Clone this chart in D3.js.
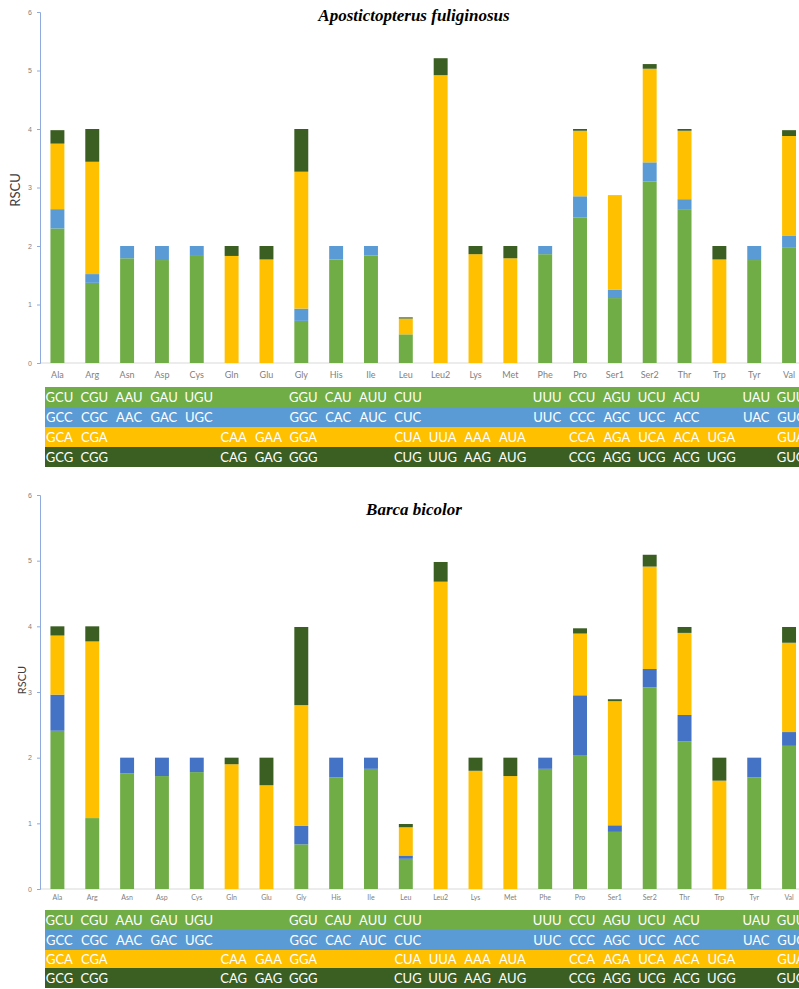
<!DOCTYPE html>
<html>
<head>
<meta charset="utf-8">
<script src="https://cdn.jsdelivr.net/npm/d3@7"></script>
<style>
  body { margin: 0; background: #fff; }
  svg { display: block; }
</style>
</head>
<body>
<script>
// amino acids along the x axis
var aminoAcids = ['Ala','Arg','Asn','Asp','Cys','Gln','Glu','Gly','His','Ile','Leu','Leu2','Lys','Met','Phe','Pro','Ser1','Ser2','Thr','Trp','Tyr','Val'];

// codon table rows (third position U, C, A, G)
var codonsU = ['GCU','CGU','AAU','GAU','UGU','','','GGU','CAU','AUU','CUU','','','','UUU','CCU','AGU','UCU','ACU','','UAU','GUU'];
var codonsC = ['GCC','CGC','AAC','GAC','UGC','','','GGC','CAC','AUC','CUC','','','','UUC','CCC','AGC','UCC','ACC','','UAC','GUC'];
var codonsA = ['GCA','CGA','','','','CAA','GAA','GGA','','','CUA','UUA','AAA','AUA','','CCA','AGA','UCA','ACA','UGA','','GUA'];
var codonsG = ['GCG','CGG','','','','CAG','GAG','GGG','','','CUG','UUG','AAG','AUG','','CCG','AGG','UCG','ACG','UGG','','GUG'];

// RSCU values, Apostictopterus fuliginosus
var apoU = [2.30,1.37,1.79,1.76,1.83,0,0,0.72,1.77,1.84,0.49,0,0,0,1.86,2.49,1.11,3.10,2.63,0,1.76,1.98];
var apoC = [0.33,0.15,0.21,0.24,0.17,0,0,0.21,0.23,0.16,0,0,0,0,0.14,0.36,0.14,0.33,0.17,0,0.24,0.20];
var apoA = [1.12,1.92,0,0,0,1.83,1.77,2.34,0,0,0.27,4.92,1.86,1.79,0,1.12,1.62,1.60,1.17,1.77,0,1.70];
var apoG = [0.23,0.56,0,0,0,0.17,0.23,0.73,0,0,0.02,0.29,0.14,0.21,0,0.03,0,0.08,0.03,0.23,0,0.10];

// RSCU values, Barca bicolor
var barU = [2.41,1.08,1.76,1.72,1.78,0,0,0.68,1.70,1.83,0.46,0,0,0,1.83,2.04,0.87,3.07,2.25,0,1.70,2.18];
var barC = [0.55,0,0.24,0.28,0.22,0,0,0.28,0.30,0.17,0.05,0,0,0,0.17,0.91,0.10,0.28,0.40,0,0.30,0.21];
var barA = [0.90,2.69,0,0,0,1.90,1.58,1.84,0,0,0.43,4.68,1.80,1.72,0,0.94,1.89,1.56,1.25,1.65,0,1.36];
var barG = [0.14,0.23,0,0,0,0.10,0.42,1.19,0,0,0.05,0.30,0.20,0.28,0,0.08,0.03,0.18,0.09,0.35,0,0.24];

var yTicks = [0,1,2,3,4,5,6];

const W = 799, H = 989;
const svg = d3.select('body').append('svg')
  .attr('width', W)
  .attr('height', H)
  .style('font-family', 'Lato, "Open Sans", sans-serif');

const x = d3.scaleBand()
  .domain(aminoAcids)
  .range([40, 40 + 22 * 34.84])
  .paddingInner(0.6)
  .paddingOuter(0.3);

const green = '#70ad47', lightBlue = '#5b9bd5', yellow = '#ffc000', dark = '#3b5e23';

function drawPanel(p) {
  const g = svg.append('g');
  const y = d3.scaleLinear().domain([0, 6]).range([p.y0, p.y6]);

  // title
  g.append('text')
    .attr('x', 414).attr('y', p.titleY)
    .attr('text-anchor', 'middle')
    .style('font-family', '"Liberation Serif", "DejaVu Serif", serif')
    .style('font-style', 'italic').style('font-weight', 'bold')
    .style('font-size', '17px')
    .text(p.title);

  // baseline
  g.append('line')
    .attr('x1', 40).attr('x2', W).attr('y1', p.y0).attr('y2', p.y0)
    .attr('stroke', '#d9d9d9').attr('stroke-width', 1);

  // stacked bars
  const keys = ['U','C','A','G'];
  const colors = {U: green, C: p.blue, A: yellow, G: dark};
  const rows = aminoAcids.map((aa, i) => ({aa: aa, U: p.u[i], C: p.c[i], A: p.a[i], G: p.g[i]}));
  const stack = d3.stack().keys(keys)(rows);
  g.selectAll('g.layer')
    .data(stack)
    .enter().append('g')
    .attr('fill', d => colors[d.key])
    .selectAll('rect')
    .data(d => d)
    .enter().append('rect')
    .attr('x', d => x(d.data.aa))
    .attr('width', x.bandwidth())
    .attr('y', d => y(d[1]))
    .attr('height', d => y(d[0]) - y(d[1]));

  // y axis
  const yAxis = d3.axisLeft(y).tickValues(yTicks).tickFormat(d3.format('d')).tickSize(3).tickPadding(5);
  const ya = g.append('g')
    .attr('transform', 'translate(40,0)')
    .call(yAxis);
  ya.select('.domain').attr('stroke', '#8faadc');
  ya.selectAll('.tick line').attr('stroke', '#8faadc');
  ya.selectAll('.tick text').attr('fill', '#7f7f7f').style('font-size', '7px');

  // y label
  g.append('text')
    .attr('transform', 'translate(' + p.labelX + ',' + p.labelY + ') rotate(-90)')
    .attr('text-anchor', 'middle')
    .attr('fill', '#404040')
    .style('font-size', p.labelSize + 'px')
    .text('RSCU');

  // x labels
  g.selectAll('text.xl')
    .data(aminoAcids)
    .enter().append('text')
    .attr('class', 'xl')
    .attr('x', d => x(d) + x.bandwidth() / 2)
    .attr('y', p.xLabelY)
    .attr('text-anchor', 'middle')
    .attr('fill', '#7f7f7f')
    .style('font-size', p.xLabelSize + 'px')
    .text(d => d);

  // codon table
  const tableRows = [
    {fill: green, codons: codonsU},
    {fill: lightBlue, codons: codonsC},
    {fill: yellow, codons: codonsA},
    {fill: dark, codons: codonsG}
  ];
  tableRows.forEach(function(r, ri) {
    const top = p.tableY[ri], bot = p.tableY[ri + 1];
    g.append('rect')
      .attr('x', 45).attr('y', top)
      .attr('width', W - 45).attr('height', bot - top)
      .attr('fill', r.fill);
    g.selectAll('text.c' + ri)
      .data(r.codons)
      .enter().append('text')
      .attr('x', (d, i) => x(aminoAcids[i]) + x.bandwidth() / 2 + 2)
      .attr('y', (top + bot) / 2)
      .attr('dy', '0.35em')
      .attr('text-anchor', 'middle')
      .attr('fill', '#fff')
      .style('font-size', '13px')
      .text(d => d);
  });
}

drawPanel({
  title: 'Apostictopterus fuliginosus', titleY: 21,
  y0: 363, y6: 12, blue: lightBlue,
  u: apoU, c: apoC, a: apoA, g: apoG,
  labelX: 20, labelY: 190, labelSize: 13,
  xLabelY: 378, xLabelSize: 9,
  tableY: [387, 407, 427, 447, 467]
});

drawPanel({
  title: 'Barca bicolor', titleY: 515,
  y0: 889, y6: 495, blue: '#4472c4',
  u: barU, c: barC, a: barA, g: barG,
  labelX: 26, labelY: 680, labelSize: 11,
  xLabelY: 900, xLabelSize: 7,
  tableY: [910, 930, 950, 968, 988]
});
</script>
</body>
</html>
